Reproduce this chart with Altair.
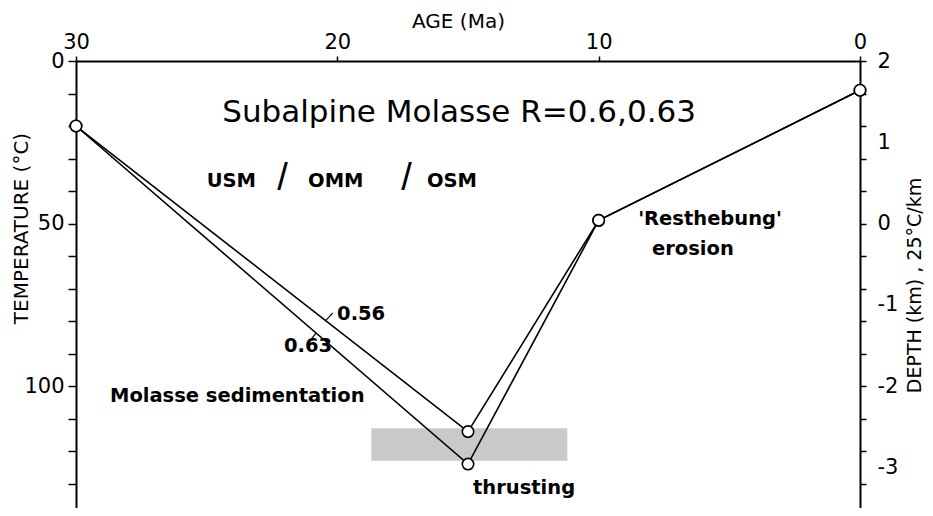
import altair as alt
import pandas as pd

# ---- data ----
ages = [30, 15, 10, 0]
temp_r063 = [20, 124, 49, 9]
temp_r056 = [20, 114, 49, 9]
series_names = ["0.63", "0.56"]

x_tick_values = [30, 20, 10, 0]
temp_tick_values = list(range(0, 140, 10))
depth_label_temps = [0, 25, 50, 75, 100, 125]  # depth 2..-3 km at 25 °C/km

band_age = [18.7, 11.2]
band_temp = [113, 123]

title_text = ["Subalpine Molasse  R=0.6,0.63"]
title_age = [15.34]
title_temp = [18.9]

bold_text = ["USM", "OMM", "OSM", "Molasse sedimentation", "0.56", "0.63",
             "thrusting", "'Resthebung'", "erosion"]
bold_age = [25.0, 21.12, 16.57, 28.7, 20.01, 22.04, 14.81, 8.49, 7.96]
bold_temp = [38.9, 38.9, 38.9, 104.8, 79.7, 89.5, 133.3, 50.5, 59.7]

slash_age = [22.1, 17.35]
slash_temp = [39.7, 39.7]

hook_a1 = [21.08, 20.47]
hook_t1 = [86.5, 80.0]
hook_a2 = [20.82, 20.17]
hook_t2 = [83.7, 77.5]

# ---- tables ----
lines_df = pd.DataFrame({
    "age": ages * 2,
    "temp": temp_r063 + temp_r056,
    "series": [series_names[0]] * 4 + [series_names[1]] * 4,
})
band_df = pd.DataFrame({"a1": [band_age[0]], "a2": [band_age[1]],
                        "t1": [band_temp[0]], "t2": [band_temp[1]]})
title_df = pd.DataFrame({"label": title_text, "age": title_age, "temp": title_temp})
bold_df = pd.DataFrame({"label": bold_text, "age": bold_age, "temp": bold_temp})
slash_df = pd.DataFrame({"label": ["/", "/"], "age": slash_age, "temp": slash_temp})
hook_df = pd.DataFrame({"age": hook_a1, "temp": hook_t1, "a2": hook_a2, "t2": hook_t2})

FONT = "DejaVu Sans"

x_scale = alt.Scale(domain=[0, 30], reverse=True, nice=False, zero=False)
y_scale = alt.Scale(domain=[0, 137.5], reverse=True, nice=False, zero=False)

top_axis = alt.Axis(orient="top", values=x_tick_values, format="d", tickSize=5,
                    labelPadding=4, labelFontSize=21, labelFlush=False,
                    labelOverlap=False, title="AGE (Ma)", titleFontSize=20,
                    titleX=382, titleY=-40, titleAlign="center",
                    titleBaseline="middle")
left_axis = alt.Axis(orient="left", values=temp_tick_values,
                     labelExpr="datum.value % 50 == 0 ? datum.label : ''",
                     tickSize=8, labelPadding=4, labelFontSize=21,
                     labelOverlap=False, labelFlush=False,
                     title="TEMPERATURE (°C)", titleFontSize=20, titleAngle=270,
                     titleX=-55, titleY=167, titleAlign="center",
                     titleBaseline="middle")


def X(field="age"):
    return alt.X(f"{field}:Q", scale=x_scale, axis=top_axis)


def Y(field="temp", axis=left_axis):
    return alt.Y(f"{field}:Q", scale=y_scale, axis=axis)


band = alt.Chart(band_df).mark_rect(color="#c9c9c9").encode(
    x=X("a1"), x2="a2", y=Y("t1"), y2="t2")

lines = alt.Chart(lines_df).mark_line(color="black", strokeWidth=1.6).encode(
    x=X(), y=Y(), detail="series:N")

points = alt.Chart(lines_df).mark_point(
    shape="circle", size=130, filled=True, fill="white", stroke="black",
    strokeWidth=1.6, opacity=1).encode(x=X(), y=Y())

hooks = alt.Chart(hook_df).mark_rule(color="black", strokeWidth=1.2).encode(
    x=X(), x2="a2", y=Y(), y2="t2")

title = alt.Chart(title_df).mark_text(
    font=FONT, fontSize=31, align="center", baseline="alphabetic",
    color="black").encode(x=X(), y=Y(), text="label:N")

bold = alt.Chart(bold_df).mark_text(
    font=FONT, fontSize=19.5, fontWeight="bold", align="left",
    baseline="alphabetic", color="black").encode(x=X(), y=Y(), text="label:N")

slashes = alt.Chart(slash_df).mark_text(
    font="Liberation Sans", fontSize=38, align="center", baseline="alphabetic",
    color="black").encode(x=X(), y=Y(), text="label:N")

main = alt.layer(band, lines, points, hooks, title, bold, slashes)

right_ticks = alt.Chart(lines_df).mark_point(opacity=0).encode(
    x=X(),
    y=Y(axis=alt.Axis(orient="right", values=temp_tick_values, labels=False,
                      tickSize=6, title=None)))

right_labels = alt.Chart(lines_df).mark_point(opacity=0).encode(
    x=X(),
    y=Y(axis=alt.Axis(orient="right", values=depth_label_temps,
                      labelExpr="toString((50 - datum.value) / 25)",
                      ticks=False, tickSize=0, domain=False, labelPadding=17,
                      labelAlign="left", labelFontSize=21, labelOverlap=False,
                      labelFlush=False,
                      title="DEPTH (km) ,  25°C/km", titleFontSize=19,
                      titleAngle=270, titleX=54, titleY=224,
                      titleAlign="center", titleBaseline="middle")))

chart = alt.layer(main, right_ticks, right_labels).resolve_axis(
    y="independent"
).properties(
    width=784, height=447,
    autosize=alt.AutoSizeParams(type="none"),
    padding={"left": 68, "top": 53, "right": 65, "bottom": 0},
    background="white",
).configure_view(stroke=None).configure_axis(
    grid=False, domainColor="black", domainWidth=2, tickColor="black",
    tickWidth=1.5, labelColor="black", titleColor="black",
    labelFont=FONT, titleFont=FONT, titleFontWeight="normal",
)

chart.save("out.html", embed_options={"renderer": "svg", "actions": False})
